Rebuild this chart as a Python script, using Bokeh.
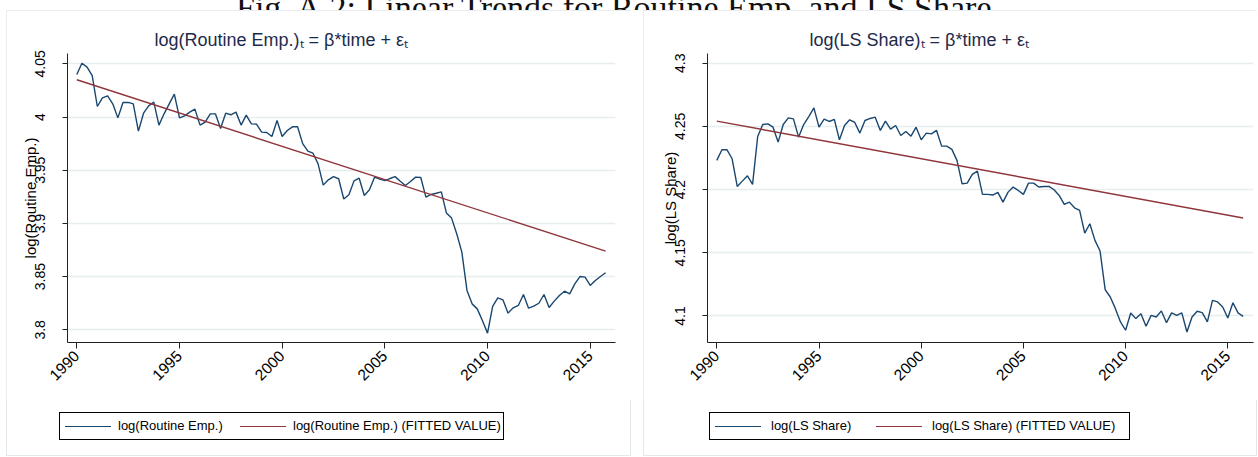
from math import pi
from bokeh.plotting import figure
from bokeh.models import Range1d, FixedTicker, Title, Div, Spacer
from bokeh.layouts import row, column
from bokeh.embed import file_html
from bokeh.resources import INLINE

# ---------------- data ----------------
quarters = [1990 + i / 4 for i in range(104)]

routine_emp = [
    4.0400, 4.0506, 4.0469, 4.0390, 4.0099, 4.0180, 4.0199, 4.0124,
    3.9992, 4.0137, 4.0137, 4.0124, 3.9867, 4.0036, 4.0105, 4.0140,
    3.9924, 4.0030, 4.0124, 4.0215, 3.9992, 4.0011, 4.0046, 4.0074,
    3.9924, 3.9952, 4.0030, 4.0030, 3.9892, 4.0036, 4.0021, 4.0046,
    3.9924, 4.0018, 3.9936, 3.9933, 3.9858, 3.9855, 3.9817, 3.9967,
    3.9817, 3.9873, 3.9908, 3.9908, 3.9750, 3.9680, 3.9660, 3.9560,
    3.9360, 3.9410, 3.9440, 3.9420, 3.9230, 3.9270, 3.9400, 3.9425,
    3.9263, 3.9316, 3.9435, 3.9416, 3.9403, 3.9422, 3.9440, 3.9397,
    3.9357, 3.9394, 3.9435, 3.9432, 3.9247, 3.9272, 3.9284, 3.9297,
    3.9097, 3.9050, 3.8903, 3.8730, 3.8370, 3.8244, 3.8197, 3.8088,
    3.7969, 3.8220, 3.8300, 3.8282, 3.8157, 3.8207, 3.8229, 3.8332,
    3.8204, 3.8222, 3.8250, 3.8332, 3.8210, 3.8270, 3.8323, 3.8363,
    3.8338, 3.8432, 3.8501, 3.8495, 3.8417, 3.8464, 3.8501, 3.8536,
]

ls_share = [
    4.2231, 4.2315, 4.2315, 4.2244, 4.2025, 4.2067, 4.2109, 4.2041,
    4.2420, 4.2515, 4.2520, 4.2494, 4.2376, 4.2515, 4.2568, 4.2560,
    4.2415, 4.2515, 4.2578, 4.2647, 4.2494, 4.2557, 4.2539, 4.2555,
    4.2394, 4.2507, 4.2552, 4.2531, 4.2447, 4.2547, 4.2563, 4.2573,
    4.2468, 4.2542, 4.2478, 4.2507, 4.2428, 4.2460, 4.2423, 4.2494,
    4.2394, 4.2447, 4.2441, 4.2468, 4.2344, 4.2344, 4.2318, 4.2231,
    4.2046, 4.2051, 4.2120, 4.2146, 4.1962, 4.1962, 4.1957, 4.1978,
    4.1901, 4.1980, 4.2020, 4.1993, 4.1962, 4.2051, 4.2051, 4.2020,
    4.2025, 4.2025, 4.1999, 4.1954, 4.1883, 4.1901, 4.1856, 4.1835,
    4.1656, 4.1730, 4.1598, 4.1514, 4.1208, 4.1150, 4.1058, 4.0953,
    4.0887, 4.1024, 4.0979, 4.1018, 4.0918, 4.1005, 4.0992, 4.1040,
    4.0947, 4.1024, 4.1005, 4.1024, 4.0873, 4.0992, 4.1037, 4.1026,
    4.0953, 4.1124, 4.1111, 4.1071, 4.0984, 4.1105, 4.1024, 4.0997,
]

fit_years = [1990.0, 2015.75]
routine_fit = [4.035, 3.874]
ls_fit = [4.2542, 4.1775]

x_ticks = [1990, 1995, 2000, 2005, 2010, 2015]
routine_ticks = [3.8, 3.85, 3.9, 3.95, 4.0, 4.05]
routine_tick_labels = ["3.8", "3.85", "3.9", "3.95", "4", "4.05"]
ls_ticks = [4.1, 4.15, 4.2, 4.25, 4.3]
ls_tick_labels = ["4.1", "4.15", "4.2", "4.25", "4.3"]

page_heading = "Fig. A.2: Linear Trends for Routine Emp. and LS Share"

FONT = "Liberation Sans"
NAVY = "#1a476f"
MAROON = "#90353b"
TITLE_COLOR = "#1e2a4a"
GRID = "#e6eef0"
AXIS = "#222222"
BORDER = "#e1e9ed"

MAIN_H = 390
LEG_H = 56
B_TOP = 43
FRAME_H = 289


def legend_div(width, name, box_left, box_w, g1, l1, g2, l2):
    """HTML legend strip: box + two line samples + labels (positions in px)."""
    font = f"font-family:'{FONT}'; font-size:13px; line-height:18px; color:#000; white-space:nowrap;"
    html = (
        f'<div style="position:relative; width:{width}px; height:{LEG_H}px;">'
        f'<div style="position:absolute; left:{box_left}px; top:12px; width:{box_w - 2}px; '
        f'height:28px; border:1px solid #000; background:#fff;"></div>'
        f'<div style="position:absolute; left:{g1}px; top:26px; width:46px; height:0; '
        f'border-top:1.4px solid {NAVY};"></div>'
        f'<span style="position:absolute; left:{l1}px; top:17px; {font}">{name}</span>'
        f'<div style="position:absolute; left:{g2}px; top:26px; width:46px; height:0; '
        f'border-top:1.4px solid {MAROON};"></div>'
        f'<span style="position:absolute; left:{l2}px; top:17px; {font}">{name} (FITTED VALUE)</span>'
        '</div>'
    )
    return Div(text=html, width=width, height=LEG_H, margin=0)


def panel(width, b_left, b_right, xr, yr, yticks, ylabels, series, fit, name,
          title_text, title_offset, leg):
    p = figure(width=width, height=MAIN_H, output_backend="svg", toolbar_location=None,
               x_range=Range1d(*xr), y_range=Range1d(*yr),
               min_border_left=b_left, min_border_right=b_right,
               min_border_top=B_TOP, min_border_bottom=MAIN_H - B_TOP - FRAME_H,
               background_fill_color="white", border_fill_color="white")
    p.outline_line_color = None
    p.xgrid.visible = False
    p.ygrid.ticker = FixedTicker(ticks=yticks)
    p.ygrid.grid_line_color = GRID
    p.ygrid.grid_line_width = 1.5

    p.add_layout(Title(text=title_text, align="left", offset=title_offset, standoff=7,
                       text_font=FONT, text_font_size="18px", text_font_style="normal",
                       text_color=TITLE_COLOR), "above")

    xa = p.xaxis[0]
    xa.ticker = FixedTicker(ticks=x_ticks)
    xa.major_label_orientation = pi / 4
    xa.major_tick_out = 6
    xa.major_tick_in = 0
    xa.minor_tick_out = 0
    xa.minor_tick_in = 0
    xa.major_label_standoff = 5
    xa.major_label_text_font = FONT
    xa.major_label_text_font_size = "15.5px"
    xa.major_label_text_color = "black"
    xa.axis_line_color = AXIS
    xa.major_tick_line_color = AXIS

    ya = p.yaxis[0]
    ya.ticker = FixedTicker(ticks=yticks)
    ya.major_label_overrides = {t: s for t, s in zip(yticks, ylabels)}
    ya.major_label_orientation = "vertical"
    ya.major_tick_out = 5
    ya.major_tick_in = 0
    ya.minor_tick_out = 0
    ya.minor_tick_in = 0
    ya.major_label_standoff = 17
    ya.major_label_text_font = FONT
    ya.major_label_text_font_size = "14px"
    ya.major_label_text_color = "black"
    ya.axis_line_color = AXIS
    ya.major_tick_line_color = AXIS
    ya.axis_label = name
    ya.axis_label_standoff = -6
    ya.axis_label_text_font = FONT
    ya.axis_label_text_font_size = "15px"
    ya.axis_label_text_font_style = "normal"
    ya.axis_label_text_color = "black"

    p.line(quarters, series, line_color=NAVY, line_width=1.4)
    p.line(fit_years, fit, line_color=MAROON, line_width=1.4)

    q = legend_div(width, name, *leg)
    return column(p, q, spacing=0,
                  styles={"outline": f"1px solid {BORDER}", "outline-offset": "-1px"})


c1 = panel(625, 61, 16, (1989.547, 2016.232), (3.7881, 4.0597),
           routine_ticks, routine_tick_labels, routine_emp, routine_fit,
           "log(Routine Emp.)", "log(Routine Emp.)\u209c = \u03b2*time + \u03b5\u209c",
           87, (53, 447, 59, 112, 234, 287))

c2 = panel(614, 64, 4, (1989.545, 2016.257), (4.079, 4.3077),
           ls_ticks, ls_tick_labels, ls_share, ls_fit,
           "log(LS Share)", "log(LS Share)\u209c = \u03b2*time + \u03b5\u209c",
           102, (66, 423, 72, 128, 233, 289))

heading = Div(
    text=('<div style="position:relative; top:-8px; padding-left:236px; white-space:nowrap; '
          'font-family:\'Liberation Serif\'; font-size:34px; line-height:32px; color:#111;">'
          + page_heading + '</div>'),
    width=1250, height=10, margin=0, styles={"overflow": "hidden"})

layout = column(heading,
                row(Spacer(width=6), c1, Spacer(width=12), c2, spacing=0),
                spacing=0)

open("out.html", "w").write(file_html(layout, INLINE))
